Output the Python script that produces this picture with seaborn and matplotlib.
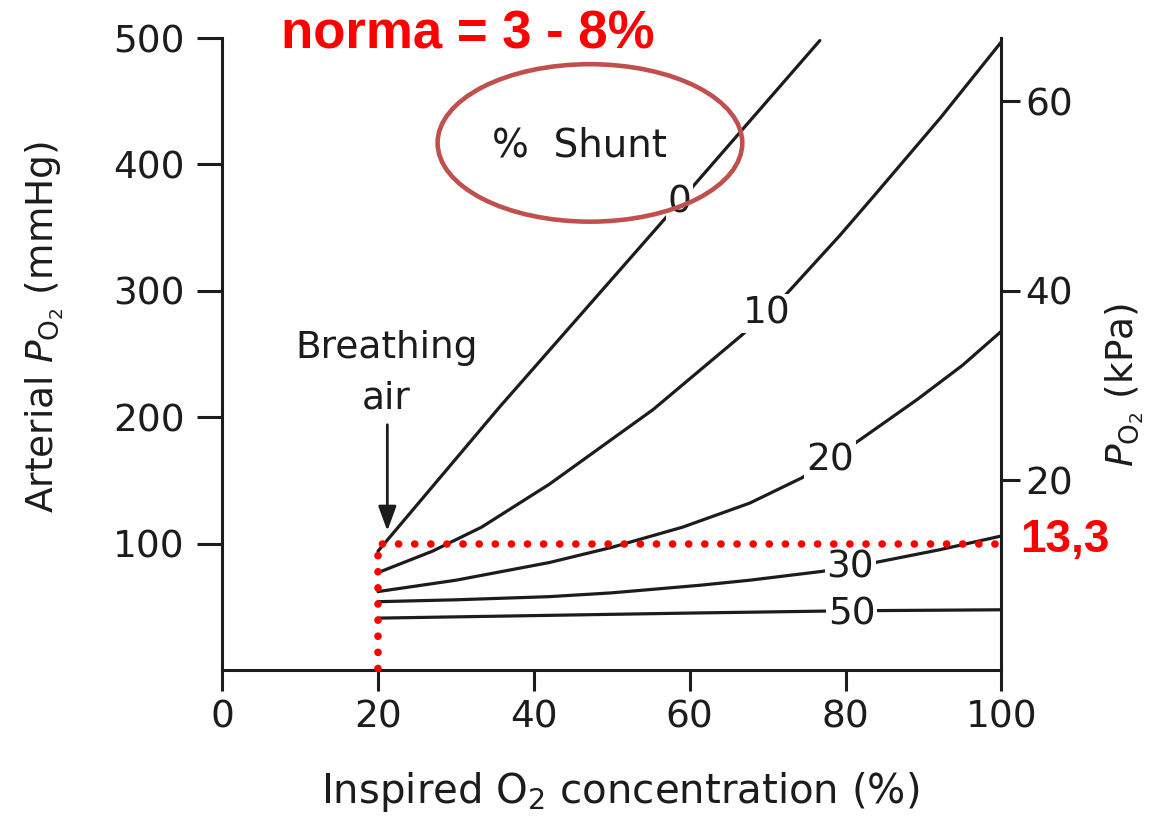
import matplotlib
matplotlib.use("Agg")
import matplotlib.pyplot as plt
from matplotlib.patches import Ellipse
import pandas as pd
import seaborn as sns

# Arterial PO2 (mmHg) against inspired O2 concentration (%) for each shunt fraction
shunt_0_x = [20, 35.6, 57.1, 60.9, 76.7]
shunt_0_y = [94, 208, 359, 386, 498]
shunt_10_x = [20, 27, 33.3, 42, 55.3, 66.7, 72.2, 79.3, 83.5, 92.2, 100]
shunt_10_y = [77, 94, 113, 147, 206, 265, 296, 344, 374, 437, 497]
shunt_20_x = [20, 30, 42, 50, 59.1, 67.7, 74.4, 81.6, 89.2, 95, 100]
shunt_20_y = [62, 71, 85, 97, 113, 132, 152, 181, 214, 241, 268]
shunt_30_x = [20, 30, 42, 50, 61.3, 67.7, 77, 83.8, 92, 100]
shunt_30_y = [54, 55.5, 58, 61, 67, 71, 78, 85, 95, 106]
shunt_50_x = [20, 40, 60, 80, 100]
shunt_50_y = [41, 43, 45, 46.8, 47.6]

shunt_names = ["0", "10", "20", "30", "50"]
label_x = [58.7, 69.9, 78.0, 80.6, 80.8]
label_y = [370, 282, 166, 81, 44]

x_ticks = [0, 20, 40, 60, 80, 100]
y_ticks = [100, 200, 300, 400, 500]
kpa_ticks = [20, 40, 60]
MMHG_PER_KPA = 7.5
normal_kpa = 13.3
air_fio2 = 20

curves = pd.concat(
    [
        pd.DataFrame({"fio2": xs, "pao2": ys, "shunt": name})
        for name, xs, ys in zip(
            shunt_names,
            [shunt_0_x, shunt_10_x, shunt_20_x, shunt_30_x, shunt_50_x],
            [shunt_0_y, shunt_10_y, shunt_20_y, shunt_30_y, shunt_50_y],
        )
    ],
    ignore_index=True,
)

sns.set_style("ticks")
plt.rcParams["font.family"] = ["DejaVu Sans"]
plt.rcParams["mathtext.fontset"] = "dejavusans"

INK = "#1c1c1c"
FS = 27

fig = plt.figure(figsize=(11.51, 8.18), dpi=100)
ax = fig.add_axes([0.193, 0.181, 0.677, 0.7725])

sns.lineplot(
    data=curves, x="fio2", y="pao2", hue="shunt", units="shunt",
    estimator=None, sort=False, palette=[INK] * len(shunt_names),
    legend=False, linewidth=2.3, ax=ax,
)

ax.set_xlim(0, 100)
ax.set_ylim(0, 500)
ax.set_xticks(x_ticks)
ax.set_yticks(y_ticks)
ax.set_xlabel("")
ax.set_ylabel("")
for side in ("top", "right"):
    ax.spines[side].set_visible(False)
for side in ("left", "bottom"):
    ax.spines[side].set_linewidth(2.2)
    ax.spines[side].set_color(INK)
ax.tick_params(axis="x", length=15, width=2.2, pad=6, labelsize=FS, colors=INK)
ax.tick_params(axis="y", length=18, width=2.2, pad=9, labelsize=FS, colors=INK)

# Secondary scale in kPa
ax2 = ax.twinx()
ax2.set_ylim(0, 500 / MMHG_PER_KPA)
ax2.set_yticks(kpa_ticks)
for side in ("top", "left", "bottom"):
    ax2.spines[side].set_visible(False)
ax2.spines["right"].set_linewidth(2.2)
ax2.spines["right"].set_color(INK)
ax2.tick_params(axis="y", length=14, width=2.2, pad=3, labelsize=FS, colors=INK)

# Curve labels sitting in gaps of each line
for name, lx, ly in zip(shunt_names, label_x, label_y):
    ax.text(lx, ly, name, ha="center", va="center", fontsize=FS, color=INK,
            bbox=dict(boxstyle="square,pad=0.05", fc="white", ec="none"), zorder=4)

ax.text(45.9, 406, "%  Shunt", ha="center", va="baseline", fontsize=28, color=INK)
ax.add_patch(Ellipse((47.2, 417), 39.1, 124.6, fill=False, ec="#C0504D",
                     lw=3.3, clip_on=False, zorder=6))

ax.text(21.1, 247, "Breathing", ha="center", va="baseline", fontsize=FS, color=INK)
ax.text(21.1, 207, "air", ha="center", va="baseline", fontsize=FS, color=INK)
ax.annotate("", xy=(21.2, 110), xytext=(21.2, 194),
            arrowprops=dict(arrowstyle="-|>,head_length=0.6,head_width=0.22",
                            mutation_scale=25, lw=2, color=INK, shrinkA=0, shrinkB=0))

# Normal arterial PO2 reference (dotted)
normal_mmhg = normal_kpa * MMHG_PER_KPA
ax.plot([99.2, air_fio2, air_fio2], [normal_mmhg, normal_mmhg, -6],
        color="red", lw=5.5, linestyle=(0, (0.01, 2.1)), dash_capstyle="round",
        clip_on=False, zorder=5)

fig.text(0.886, 0.325, f"{normal_kpa:.1f}".replace(".", ","), color="red",
         fontsize=33, fontweight="bold", family="Liberation Sans", va="baseline")
fig.text(0.406, 0.941, "norma = 3 - 8%", color="red", fontsize=38,
         fontweight="bold", family="Liberation Sans", ha="center", va="baseline")

# Axis titles
fig.text(0.539, 0.018, r"Inspired O$_2$ concentration (%)", ha="center",
         va="baseline", fontsize=29, color=INK)
fig.text(0.039, 0.600, r"Arterial $P_{\mathrm{O}_2}$ (mmHg)", rotation=90,
         ha="center", va="center", fontsize=FS, color=INK)
fig.text(0.977, 0.529, r"$P_{\mathrm{O}_2}$ (kPa)", rotation=90,
         ha="center", va="center", fontsize=FS, color=INK)

fig.savefig("out.png", dpi=100, facecolor="white")
